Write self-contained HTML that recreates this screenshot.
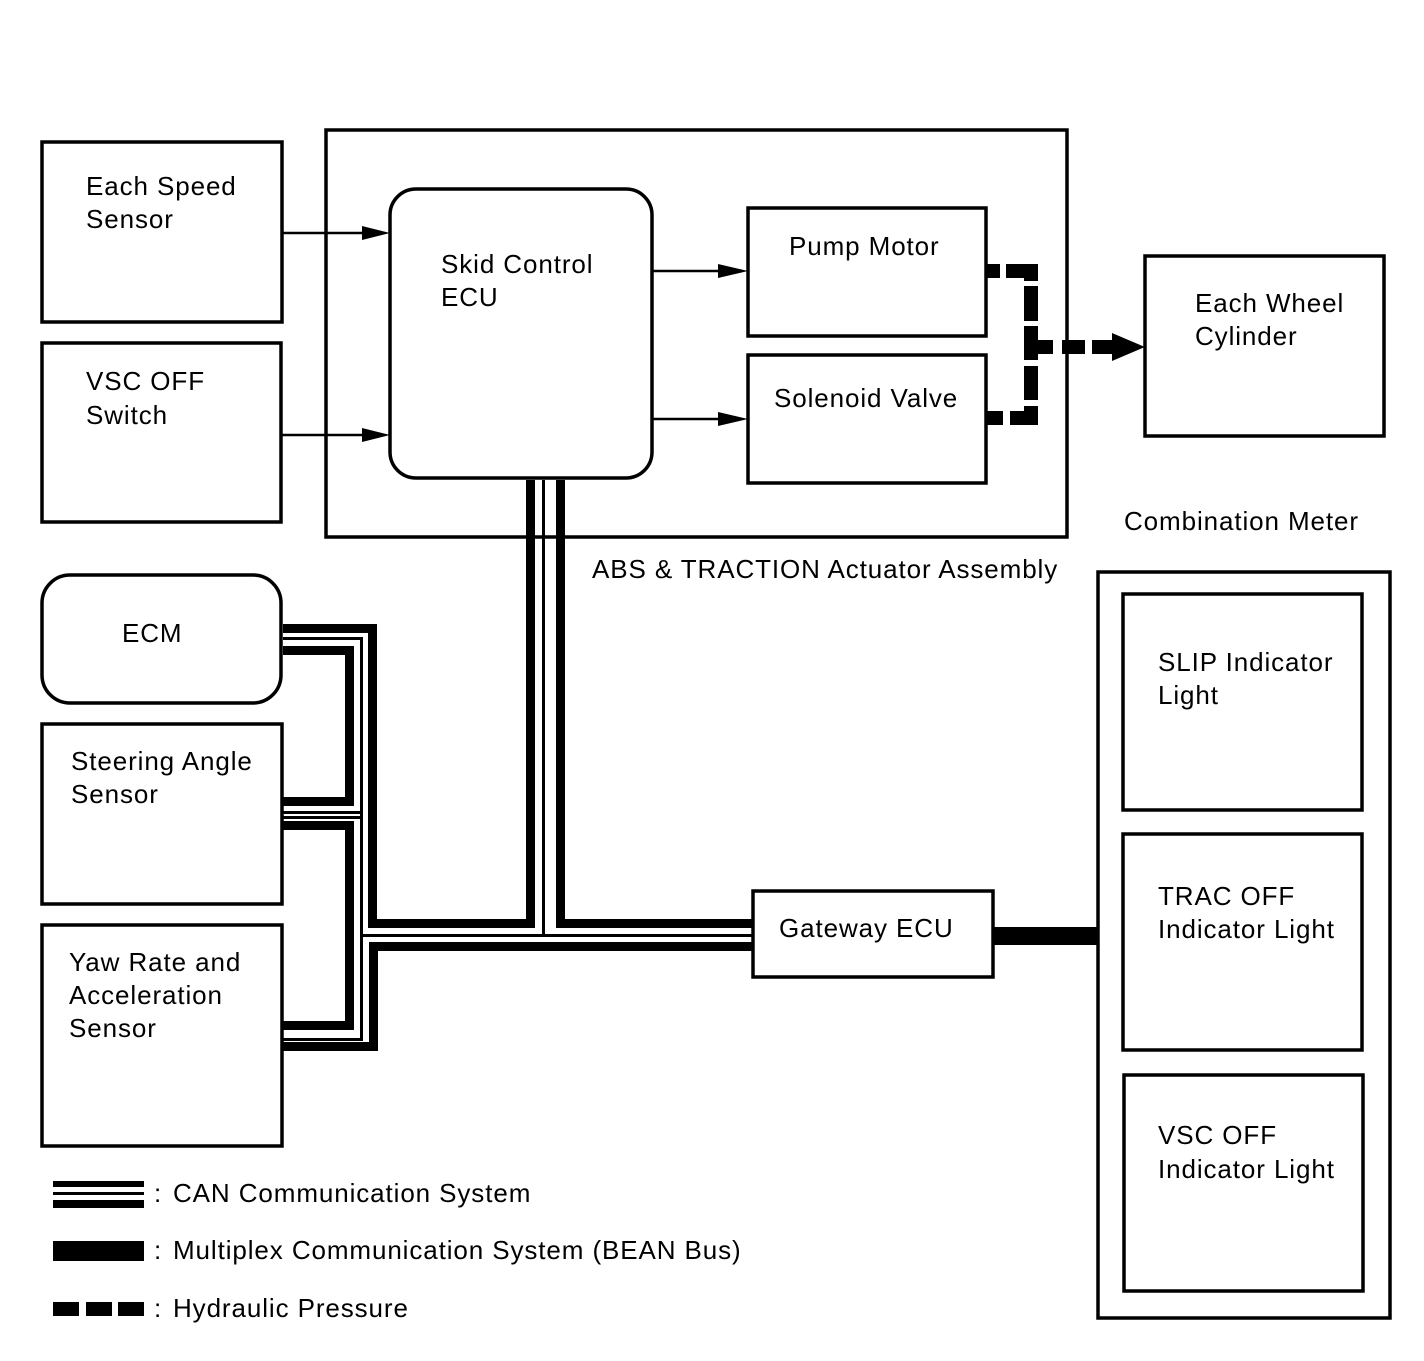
<!DOCTYPE html>
<html><head><meta charset="utf-8"><style>
html,body{margin:0;padding:0;background:#fff}
svg{display:block}
text{font-family:"Liberation Sans",Arial,sans-serif;font-size:26px;fill:#000;letter-spacing:0.9px}
</style></head><body>
<svg width="1424" height="1361" viewBox="0 0 1424 1361" xmlns="http://www.w3.org/2000/svg">
<g fill="none" stroke="#000" stroke-width="3.5">
<rect x="42" y="142" width="240" height="180"/>
<rect x="42" y="343" width="239" height="179"/>
<rect x="326" y="130" width="741" height="407"/>
<rect x="390" y="189" width="262" height="289" rx="26"/>
<rect x="748" y="208" width="238" height="128"/>
<rect x="748" y="355" width="238" height="128"/>
<rect x="1145" y="256" width="239" height="180"/>
<rect x="42" y="575" width="239" height="128" rx="28"/>
<rect x="42" y="724" width="240" height="180"/>
<rect x="42" y="925" width="240" height="221"/>
<rect x="753" y="891" width="240" height="86"/>
<rect x="1098" y="572" width="292" height="746"/>
<rect x="1123" y="594" width="239" height="216"/>
<rect x="1123" y="834" width="239" height="216"/>
<rect x="1124" y="1075" width="239" height="216"/>
</g>
<g stroke="#000" stroke-width="2.5">
<line x1="282" y1="233" x2="370" y2="233"/>
<line x1="281" y1="435" x2="370" y2="435"/>
<line x1="652" y1="271" x2="728" y2="271"/>
<line x1="652" y1="419" x2="728" y2="419"/>
</g>
<g fill="#000">
<polygon points="362,226 390,233 362,240"/>
<polygon points="362,428 390,435 362,442"/>
<polygon points="718,264 748,271 718,278"/>
<polygon points="718,412 748,419 718,426"/>
<!-- hydraulic -->
<rect x="987" y="264" width="13" height="14"/>
<rect x="1006" y="264" width="32" height="14"/>
<rect x="1024" y="264" width="14" height="17"/>
<rect x="1024" y="286" width="14" height="35"/>
<rect x="1024" y="326" width="14" height="34"/>
<rect x="1024" y="340" width="29" height="14"/>
<rect x="1024" y="366" width="14" height="34"/>
<rect x="1024" y="406" width="14" height="19"/>
<rect x="1010" y="411" width="28" height="14"/>
<rect x="987" y="411" width="16" height="14"/>
<rect x="1062" y="340" width="23" height="14"/>
<rect x="1092" y="340" width="22" height="14"/>
<polygon points="1112,333 1145,347 1112,361"/>
<!-- CAN A -->
<rect x="283" y="624" width="94" height="9"/>
<rect x="368" y="624" width="9" height="304"/>
<rect x="368" y="919" width="167" height="9"/>
<rect x="526" y="480" width="9" height="448"/>
<!-- thin -->
<rect x="283" y="637" width="80" height="3"/>
<rect x="360" y="637" width="3" height="404"/>
<rect x="360" y="934" width="393" height="3"/>
<rect x="542" y="480" width="3" height="457"/>
<rect x="283" y="811" width="80" height="3"/>
<rect x="283" y="816" width="80" height="3"/>
<rect x="283" y="1038" width="80" height="3"/>
<!-- B -->
<rect x="283" y="646" width="71" height="9"/>
<rect x="345" y="646" width="9" height="160"/>
<rect x="283" y="797" width="71" height="9"/>
<!-- C -->
<rect x="283" y="821" width="71" height="9"/>
<rect x="345" y="821" width="9" height="209"/>
<rect x="283" y="1021" width="71" height="9"/>
<!-- D -->
<rect x="283" y="1042" width="95" height="9"/>
<rect x="369" y="942" width="9" height="109"/>
<rect x="369" y="942" width="384" height="9"/>
<!-- E -->
<rect x="556" y="480" width="9" height="448"/>
<rect x="556" y="919" width="197" height="9"/>
<!-- BEAN -->
<rect x="993" y="927" width="105" height="18"/>
<!-- legend -->
<rect x="53" y="1181" width="91" height="6"/>
<rect x="53" y="1192" width="91" height="3"/>
<rect x="53" y="1200" width="91" height="8"/>
<rect x="53" y="1241" width="91" height="20"/>
<rect x="53" y="1302" width="26" height="14"/>
<rect x="86" y="1302" width="26" height="14"/>
<rect x="118" y="1302" width="26" height="14"/>
</g>
<g>
<text x="86" y="195">Each Speed</text><text x="86" y="228">Sensor</text>
<text x="86" y="390">VSC OFF</text><text x="86" y="424">Switch</text>
<text x="441" y="273">Skid Control</text><text x="441" y="306">ECU</text>
<text x="789" y="255">Pump Motor</text>
<text x="774" y="407">Solenoid Valve</text>
<text x="1195" y="312">Each Wheel</text><text x="1195" y="345">Cylinder</text>
<text x="1124" y="530">Combination Meter</text>
<text x="592" y="578">ABS &amp; TRACTION Actuator Assembly</text>
<text x="122" y="642">ECM</text>
<text x="71" y="770">Steering Angle</text><text x="71" y="803">Sensor</text>
<text x="69" y="971">Yaw Rate and</text><text x="69" y="1004">Acceleration</text><text x="69" y="1037">Sensor</text>
<text x="779" y="937">Gateway ECU</text>
<text x="1158" y="671">SLIP Indicator</text><text x="1158" y="704">Light</text>
<text x="1158" y="905">TRAC OFF</text><text x="1158" y="938">Indicator Light</text>
<text x="1158" y="1144">VSC OFF</text><text x="1158" y="1178">Indicator Light</text>
<text x="154" y="1202">:</text><text x="173" y="1202">CAN Communication System</text>
<text x="154" y="1259">:</text><text x="173" y="1259">Multiplex Communication System (BEAN Bus)</text>
<text x="154" y="1317">:</text><text x="173" y="1317">Hydraulic Pressure</text>
</g>
</svg>
</body></html>
